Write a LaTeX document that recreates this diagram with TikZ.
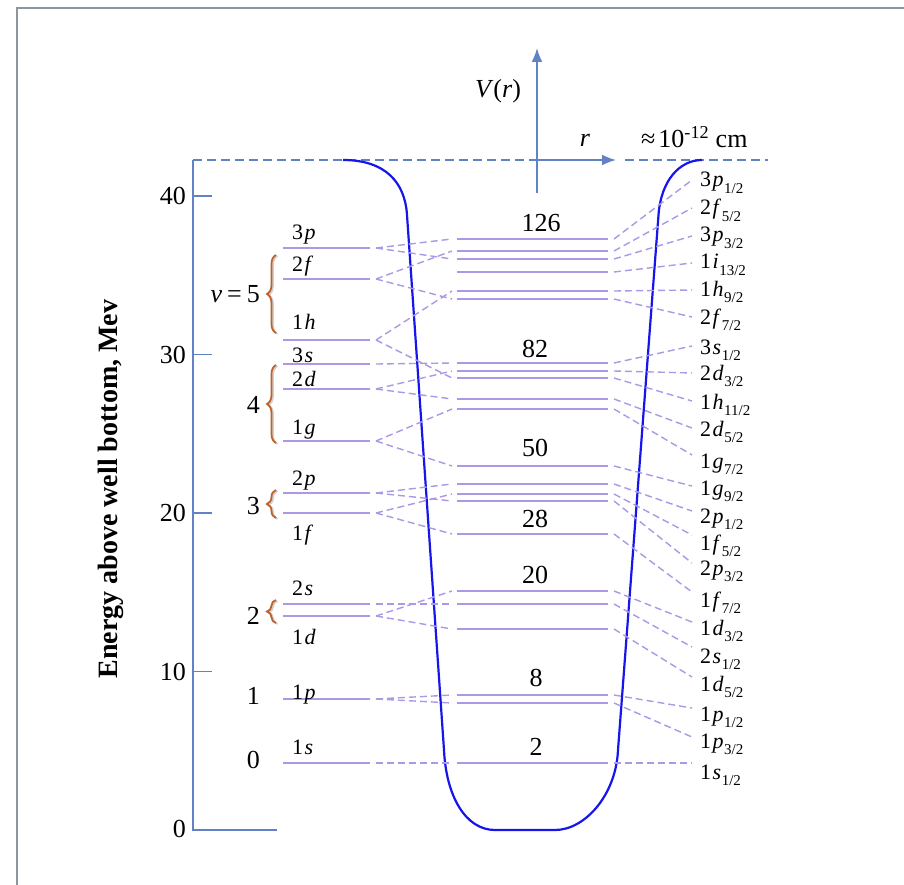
\documentclass[tikz,border=0pt]{standalone}
\usepackage{fontspec}
\setmainfont{Liberation Serif}
\usetikzlibrary{arrows.meta,decorations.pathreplacing}
\definecolor{lvl}{RGB}{172,152,228}
\definecolor{axisblue}{RGB}{98,130,198}
\definecolor{wellblue}{RGB}{22,22,236}
\definecolor{braceor}{RGB}{192,96,44}
\definecolor{framegray}{RGB}{140,150,160}
\newcommand\orb[2]{#1\kern1.5pt\textit{#2}}
\newcommand\lsub[1]{\kern0.5pt\raisebox{-6.5pt}{\fontsize{15}{15}\selectfont #1}}
\begin{document}
\begin{tikzpicture}[x=1pt,y=-1pt,
 lvlline/.style={draw=lvl,line width=1.8pt},
 link/.style={draw=lvl,line width=1.4pt,dash pattern=on 7pt off 4pt},
 axisln/.style={draw=axisblue,line width=1.8pt},
 topdash/.style={draw=axisblue,line width=1.6pt,dash pattern=on 9pt off 5pt},
 well/.style={draw=wellblue,line width=2.2pt},
 obrace/.style={draw=braceor,line width=1.8pt,decorate,decoration={brace,amplitude=9pt}},
 big/.style={font=\fontsize{26}{30}\selectfont,inner sep=0pt},
 small/.style={font=\fontsize{22}{26}\selectfont,inner sep=0pt},
 axlabel/.style={font=\fontsize{28}{32}\selectfont\bfseries,inner sep=0pt},
]
\fill[white] (0,0) rectangle (904,885);
\path[use as bounding box] (0,0) rectangle (904,885);
% frame
\draw[framegray,line width=2pt] (17,885) -- (17,8) -- (904,8);

% energy axis
\coordinate (ytop) at (193,160);
\coordinate (yorig) at (193,830);
\coordinate (xend) at (277,830);
\draw[axisln] (ytop) -- (yorig) -- (xend);
\foreach \v/\y in {40/196,30/354.5,20/513,10/671.5}{
  \coordinate (t\v) at (193,\y);
  \coordinate (tt\v) at (212,\y);
  \draw[axisln] (t\v) -- (tt\v);
  \node[big,anchor=east] (tl\v) at (186,\y) {\v};
}
\node[big,anchor=east] (tl0) at (186,829) {0};
\node[axlabel,rotate=90,anchor=base] (ylab) at (117,489) {Energy above well bottom, Mev};

% top dashed line and r, V(r) axes
\coordinate (dA) at (193,160);
\coordinate (origin) at (537,160);
\coordinate (rtip) at (616,160);
\coordinate (dB) at (625,160);
\coordinate (dC) at (768,160);
\coordinate (vbot) at (537,193);
\coordinate (vtop) at (537,48);
\draw[topdash] (dA) -- (origin);
\draw[topdash] (dB) -- (dC);
\draw[axisln,-{Latex[length=14pt,width=11pt]}] (vbot) -- (vtop);
\draw[axisln,-{Latex[length=14pt,width=11pt]}] (origin) -- (rtip);
\node[big,anchor=base] (Vr) at (498,98) {\textit{V}(\textit{r})};
\node[big,anchor=base] (rr) at (585,147) {\textit{r}};
\node[big,anchor=base west] (size) at (641,148) {≈\kern3pt10\textsuperscript{-12} cm};

% potential well
\draw[well] (343,160) .. controls (385,160) and (405,182) .. (407,215)
  -- (444,750) .. controls (446,795) and (465,830) .. (495,830)
  -- (555,830) .. controls (585,830) and (616,795) .. (618,750)
  -- (658.5,215) .. controls (661,180) and (680,160) .. (702,160);

% oscillator levels (left)
\foreach \n/\y in {3p/248,2f/279,1h/340,3s/364,2d/389,1g/441,2p/493,1f/513,2s/604,1d/616,1p/699,1s/763}{
  \coordinate (L\n a) at (283,\y);
  \coordinate (L\n b) at (370,\y);
  \coordinate (L\n c) at (376,\y);
  \draw[lvlline] (L\n a) -- (L\n b);
}
\foreach \n/\b in {3p/240,2f/272,1h/329,3s/362,2d/386,1g/434,2p/485,1f/540,2s/595,1d/644,1p/699,1s/754}{
  \node[small,anchor=base west] (lab\n) at (292,\b) {\expandafter\orb\n};
}

% oscillator numbers and braces
\node[big,anchor=base east] (osc5) at (260,302) {\textit{v}\hspace{5pt}=\hspace{5pt}5};
\node[big,anchor=base east] (osc4) at (260,413) {4};
\node[big,anchor=base east] (osc3) at (260,514) {3};
\node[big,anchor=base east] (osc2) at (260,624) {2};
\node[big,anchor=base east] (osc1) at (260,704) {1};
\node[big,anchor=base east] (osc0) at (260,768) {0};
\foreach \t/\bb in {255/333,365/443,490/518,600/623}{
  \coordinate (bt\t) at (276,\t);
  \coordinate (bb\t) at (276,\bb);
  \draw[obrace,draw=black!18] ([xshift=1.5pt,yshift=-1pt]bb\t) -- ([xshift=1.5pt,yshift=-1pt]bt\t);
  \draw[obrace] (bb\t) -- (bt\t);
}

% shell-model levels (middle)
\foreach \i/\y in {1/239,2/251,3/259,4/272,5/291,6/299,7/363,8/371,9/378,10/399,11/409,12/466,13/484,14/494,15/501,16/534,17/591,18/604,19/629,20/695,21/703,22/763}{
  \coordinate (M\i l) at (452,\y);
  \coordinate (M\i a) at (457,\y);
  \coordinate (M\i b) at (608,\y);
  \coordinate (M\i r) at (614,\y);
  \draw[lvlline] (M\i a) -- (M\i b);
}
% magic numbers
\node[big] (mg126) at (541,223) {126};
\node[big] (mg82) at (535,349) {82};
\node[big] (mg50) at (535,448) {50};
\node[big] (mg28) at (535,519) {28};
\node[big] (mg20) at (535,575) {20};
\node[big] (mg8) at (536,678) {8};
\node[big] (mg2) at (536,747) {2};

% splitting links (left to middle)
\foreach \a/\b in {3p/1,3p/3,2f/2,2f/6,1h/5,1h/9,3s/7,2d/8,2d/10,1g/11,1g/12,2p/13,2p/15,1f/14,1f/16,2s/18,1d/17,1d/19,1p/20,1p/21,1s/22}{
  \draw[link] (L\a c) -- (M\b l);
}

% right labels
\foreach \i/\d/\l/\s/\e/\bl in {1/3/p/1\slash 2/180/187,2/2/f/5\slash 2/208/215,3/3/p/3\slash 2/236/242,4/1/i/13\slash 2/263/269,5/1/h/9\slash 2/290/296,6/2/f/7\slash 2/317/324,7/3/s/1\slash 2/346/354,8/2/d/3\slash 2/373/380,9/1/h/11\slash 2/401/409,10/2/d/5\slash 2/428/436,11/1/g/7\slash 2/455/468,12/1/g/9\slash 2/486/495,13/2/p/1\slash 2/511/523,14/1/f/5\slash 2/535/550,15/2/p/3\slash 2/563/575,16/1/f/7\slash 2/592/607,17/1/d/3\slash 2/622/635,18/2/s/1\slash 2/647/663,19/1/d/5\slash 2/677/691,20/1/p/1\slash 2/708/721,21/1/p/3\slash 2/737/748,22/1/s/1\slash 2/763/779}{
  \coordinate (E\i) at (692,\e);
  \draw[link] (M\i r) -- (E\i);
  \node[small,anchor=base west] (R\i) at (700,\bl) {\orb{\d}{\l}\lsub{\s}};
}
\end{tikzpicture}
\end{document}
